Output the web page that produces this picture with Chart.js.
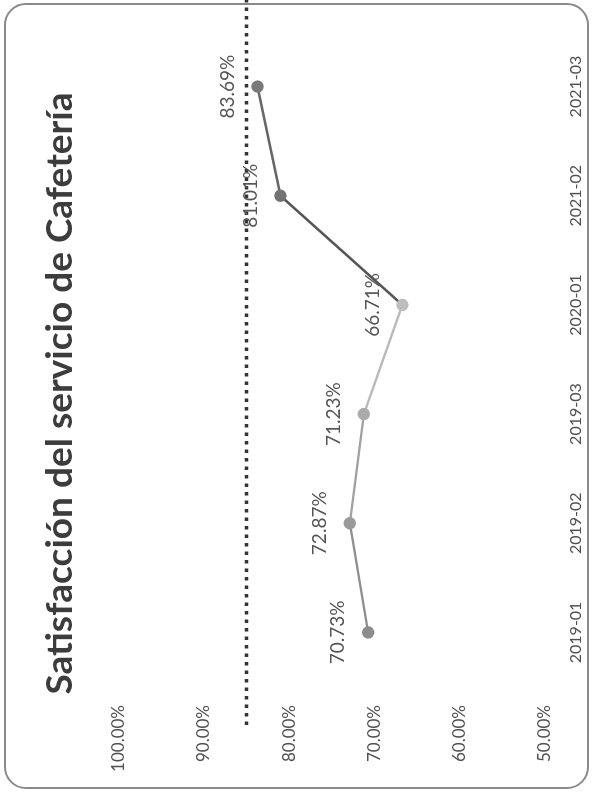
<!DOCTYPE html>
<html>
<head>
<meta charset="utf-8">
<script src="https://cdn.jsdelivr.net/npm/chart.js@4.4.0/dist/chart.umd.min.js"></script>
<style>
html, body { margin: 0; padding: 0; background: #fff; }
#frame { position: absolute; left: 4px; top: 3px; width: 581px; height: 782px; border: 2px solid #8a8a8a; border-radius: 22px; }
#rot { position: absolute; left: 0; top: 0; width: 797px; height: 592px; transform-origin: 0 0; transform: translate(0, 797px) rotate(-90deg); }
</style>
</head>
<body>
<div id="frame"></div>
<div id="rot"><canvas id="chart" width="797" height="592"></canvas></div>
<script>
// chart data
const categories = ['2019-01', '2019-02', '2019-03', '2020-01', '2021-02', '2021-03'];
const satisfaction = [70.73, 72.87, 71.23, 66.71, 81.01, 83.69];
const target = 85;
const chartTitle = 'Satisfacción del servicio de Cafetería';

// greys of each point and of the segment that ends on it
const pointColors = ['#8c8c8c', '#9a9a9a', '#ababab', '#bdbdbd', '#737373', '#7a7a7a'];
const lineColors = ['#8a8a8a', '#8e8e8e', '#a0a0a0', '#bababa', '#555555', '#666666'];

const fontFamily = "Lato, 'Liberation Sans', sans-serif";

const targetLine = {
	id: 'targetLine',
	beforeDatasetsDraw(chart) {
		const y = chart.scales.y.getPixelForValue(target);
		const ctx = chart.ctx;
		ctx.save();
		ctx.strokeStyle = '#333333';
		ctx.lineWidth = 3.5;
		ctx.setLineDash([3.5, 5]);
		ctx.beginPath();
		ctx.moveTo(chart.chartArea.left - 38, y);
		ctx.lineTo(chart.width, y);
		ctx.stroke();
		ctx.restore();
	}
};

const valueLabels = {
	id: 'valueLabels',
	afterDatasetsDraw(chart) {
		const meta = chart.getDatasetMeta(0);
		const ctx = chart.ctx;
		ctx.save();
		ctx.font = '19px ' + fontFamily;
		ctx.fillStyle = '#555555';
		ctx.textAlign = 'center';
		ctx.textBaseline = 'middle';
		meta.data.forEach((pt, i) => {
			ctx.fillText(satisfaction[i].toFixed(2) + '%', pt.x, pt.y - 30);
		});
		ctx.restore();
	}
};

const ctx = document.getElementById('chart').getContext('2d');
new Chart(ctx, {
	type: 'line',
	data: {
		labels: categories,
		datasets: [{
			data: satisfaction,
			borderWidth: 2.5,
			segment: {
				borderColor: c => lineColors[c.p1DataIndex]
			},
			pointBackgroundColor: pointColors,
			pointBorderColor: pointColors,
			pointRadius: 5,
			tension: 0,
			fill: false
		}]
	},
	options: {
		responsive: false,
		animation: false,
		layout: { padding: { left: 10, right: 0, top: 0, bottom: 0 } },
		plugins: {
			legend: { display: false },
			tooltip: { enabled: false },
			title: {
				display: true,
				text: chartTitle,
				color: '#3c3c3c',
				font: { family: fontFamily, size: 37, weight: 'bold' },
				padding: { top: 38, bottom: 36 }
			}
		},
		scales: {
			x: {
				offset: true,
				grid: { display: false, drawTicks: false },
				border: { display: false },
				ticks: { color: '#505050', font: { family: fontFamily, size: 16 }, padding: 21, maxRotation: 0 },
				afterFit(scale) { scale.height = 47; }
			},
			y: {
				min: 50,
				max: 100,
				grid: { display: false, drawTicks: false },
				border: { display: false },
				ticks: {
					stepSize: 10,
					color: '#505050',
					font: { family: fontFamily, size: 17 },
					padding: 18,
					callback: v => v.toFixed(2) + '%'
				},
				afterFit(scale) { scale.width = 100; }
			},
			// empty right margin
			yRight: {
				position: 'right',
				min: 0,
				max: 1,
				grid: { display: false, drawTicks: false },
				border: { display: false },
				ticks: { display: false },
				afterFit(scale) { scale.width = 32; }
			}
		}
	},
	plugins: [targetLine, valueLabels]
});
</script>
</body>
</html>
